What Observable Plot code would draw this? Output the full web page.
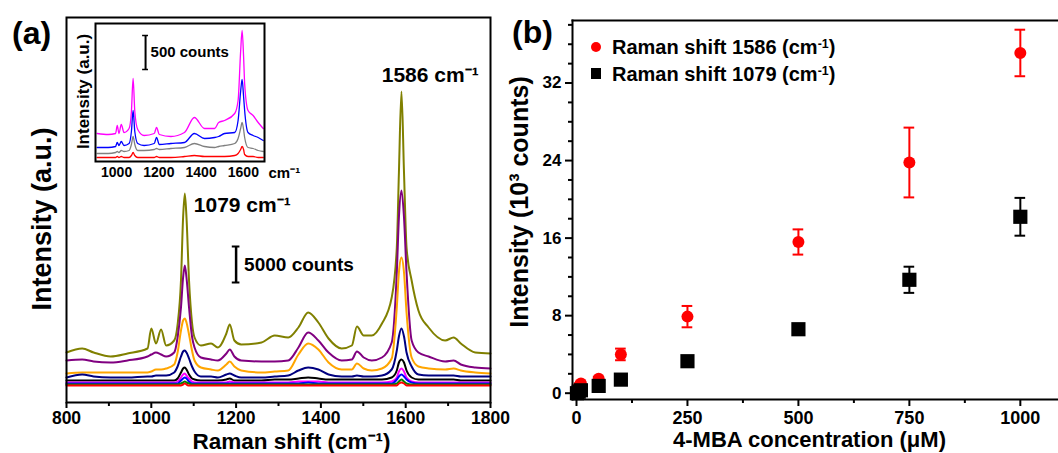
<!DOCTYPE html>
<html><head><meta charset="utf-8">
<script src="https://cdn.jsdelivr.net/npm/d3@7"></script>
<script src="https://cdn.jsdelivr.net/npm/@observablehq/plot@0.6"></script>
<style>
body{margin:0;background:#fff;}
#wrap{position:relative;width:1058px;height:453px;overflow:hidden;background:#fff;font-family:"Liberation Sans",Arial,sans-serif;font-weight:bold;color:#000;}
.abs{position:absolute;}
.lbl{position:absolute;white-space:nowrap;line-height:1;}
.sup{position:relative;top:-0.5em;font-size:0.62em;}
</style></head><body><div id="wrap"></div>
<script>
// ---------- Panel (a): main spectra ----------
const shiftA = [800, 837, 864, 904, 944, 991, 1000, 1011, 1023, 1035, 1054, 1062, 1070, 1075, 1079, 1083, 1089, 1096, 1102, 1117, 1141, 1157, 1177, 1185, 1196, 1212, 1260, 1291, 1323, 1347, 1370, 1394, 1418, 1449, 1473, 1485, 1501, 1520, 1544, 1567, 1579, 1584, 1590, 1596, 1602, 1614, 1630, 1654, 1693, 1713, 1730, 1764, 1800];
const specOlive = [50,54,50,46,49,54,74,59,73,57, 62,78,122,185,209,185,122,80,65,57, 59,55,69,78,62,58,60,67,65,75, 90,80,64,54,57,76,67,67,79,105, 155,230,311,230,155,122,92,75,62,65, 59,50,49];
const specPurple = [42,43,41,40,42,46,48,50,48,46, 50,65,95,125,137,125,95,66,55,45, 43,42,49,53,46,42,41,41,42,55, 70,62,50,42,43,51,45,42,45,60, 130,185,212,185,130,62,50,46,41,42, 38,35,34];
const specOrange = [29,30,30,30,30,30,31,33,33,34, 38,50,72,82,84,80,68,52,42,35, 33,32,38,41,36,32,30,31,32,48, 59,53,40,33,33,39,34,32,34,44, 95,130,145,130,90,45,36,34,33,34, 32,30,29];
const specNavy = [25,28,26,25,25,26,26,27,27,27, 30,36,46,51,52,50,44,36,31,26, 26,25,28,29,27,25,25,26,27,32, 35,33,28,26,26,27,26,26,27,33, 52,66,74,66,50,36,28,27,27,27, 26,26,26];
const specBlack = [22,22,22,22,22,22,22,22,22,22, 22,24,30,34,35,33,28,24,23,22, 22,22,23,24,22,22,22,23,23,24, 25,24,23,23,23,23,23,23,23,25, 32,40,43,40,32,25,23,23,23,23, 22,22,22];
const specMagenta = [20,20,20,20,20,20,20,20,20,20, 20,21,25,28,29,27,24,21,20,20, 20,20,20,21,20,20,20,20,20,21, 21,21,20,20,20,20,20,20,20,21, 25,31,34,31,25,21,20,20,20,20, 20,20,20];
const specBlue = [19,19,19,19,19,19,19,19,19,19, 19,19,22,24,25,24,21,19,19,19, 19,19,19,19,19,19,19,19,19,19, 20,19,19,19,19,19,19,19,19,19, 23,26,28,26,23,20,19,19,19,19, 19,19,19];
const specGreen = [18,18,18,18,18,18,18,18,18,18, 18,18,19,20,21,20,19,18,18,18, 18,18,18,18,18,18,18,18,18,18, 18,18,18,18,18,18,18,18,18,18, 19,21,23,21,19,18,18,18,18,18, 18,18,18];
const specRed = [17,17,17,17,17,17,17,17,17,17, 17,17,17,18,19,18,17,17,17,17, 17,17,17,17,17,17,17,17,17,17, 17,17,17,17,17,17,17,17,17,17, 17,19,20,19,17,17,17,17,17,17, 17,17,17];
const mainNames = ["olive","purple","orange","navy","black","magenta","blue","green","red"];
const mainColors = ["#808000","#800080","#ff7f0e","#000080","#000000","#ff00ff","#0000ff","#008000","#ff0000"];
const mainSeries = [specOlive,specPurple,specOrange,specNavy,specBlack,specMagenta,specBlue,specGreen,specRed];
const ticksA = [800, 1000, 1200, 1400, 1600, 1800];
const minorA = [900, 1100, 1300, 1500, 1700];
const scaleBarA = [{shift: 1200, from: 120, to: 156, label: "5000 counts"}];
const peakLabelsA = [{shift: 1079, value: 209, text: "1079 cm⁻¹"}, {shift: 1586, value: 311, text: "1586 cm⁻¹"}];

// ---------- Inset ----------
const shiftB = [908, 960, 995, 1003, 1011, 1022, 1035, 1059, 1070, 1078, 1086, 1100, 1130, 1178, 1189, 1202, 1257, 1321, 1368, 1416, 1464, 1483, 1511, 1559, 1575, 1587, 1594, 1601, 1606, 1622, 1646, 1670, 1694];
const insMagenta = [28,27,28,36,28,37,29,33,50,83, 50,32,26,28,34,27,25,29,44,33, 33,39,41,48,61,110,131,105,78,51, 46,39,33];
const insBlue = [14,14,15,19,16,20,16,18,30,51, 30,18,16,18,24,17,18,19,28,23, 24,25,28,29,41,70,82,65,51,29, 26,24,21];
const insGray = [8,8,9,10,9,11,10,11,17,25, 17,11,11,12,13,12,13,14,18,15, 14,15,16,18,23,33,39,32,24,14, 13,11,10];
const insRed = [4,4,4,5,4,5,4,4,6,9, 6,4,4,4,5,4,4,5,6,5, 5,5,5,6,8,12,15,12,7,5, 5,4,4];
const insNames = ["magenta","blue","gray","red"];
const insColors = ["#e533e5","#3333ff","#808080","#ff2020"];
const insSeries = [insMagenta, insBlue, insGray, insRed];
const ticksB = [1000, 1200, 1400, 1600];
const scaleBarB = [{shift: 1137, from: 92, to: 126, label: "500 counts"}];

// ---------- Panel (b) ----------
const conc = [1, 5, 10, 50, 100, 250, 500, 750, 1000];
const int1586 = [0.2, 0.7, 1.0, 1.5, 4.0, 7.9, 15.6, 23.8, 35.1];
const err1586 = [0.1, 0.1, 0.2, 0.2, 0.6, 1.1, 1.3, 3.6, 2.4];
const int1079 = [0.0, 0.15, 0.3, 0.75, 1.4, 3.3, 6.6, 11.7, 18.2];
const err1079 = [0.05, 0.05, 0.1, 0.1, 0.15, 0.2, 0.3, 1.35, 1.95];
const ticksCx = [0, 250, 500, 750, 1000];
const minorCx = [125, 375, 625, 875];
const ticksCy = [0, 8, 16, 24, 32];
const minorCy = [2, 4, 6, 10, 12, 14, 18, 20, 22, 26, 28, 30, 34, 36, 38];
const legendNames = ["Raman shift 1586 (cm<span class='sup'>-1</span>)", "Raman shift 1079 (cm<span class='sup'>-1</span>)"];

// ---------- build ----------
const FONT = '"Liberation Sans", Arial, sans-serif';
const wrap = document.getElementById("wrap");
const fmt = d => String(d);
function place(node, left, top) {
  const d = document.createElement("div");
  d.className = "abs"; d.style.left = left + "px"; d.style.top = top + "px";
  d.appendChild(node); wrap.appendChild(d);
}
function label(html, left, baseline, size) {
  const d = document.createElement("div");
  d.className = "lbl"; d.style.left = left + "px"; d.style.fontSize = size + "px";
  d.style.top = (baseline - 0.8465 * size) + "px";
  d.innerHTML = html; wrap.appendChild(d); return d;
}
const baseStyle = {fontFamily: FONT, fontWeight: "bold", color: "#000", background: "transparent", overflow: "visible"};

const spectraA = [];
mainSeries.forEach((arr, i) => arr.forEach((v, j) => spectraA.push({series: mainNames[i], shift: shiftA[j], value: v})));
const capA = 9;
const plotA = Plot.plot({
  width: 500, height: 453,
  marginLeft: 66, marginRight: 10, marginTop: 17, marginBottom: 51,
  style: {...baseStyle, fontSize: "18px"},
  x: {domain: [800, 1800]},
  y: {domain: [0, 385], axis: null},
  color: {domain: mainNames, range: mainColors},
  marks: [
    Plot.line(spectraA, {x: "shift", y: "value", z: "series", stroke: "series", strokeWidth: 2, curve: "monotone-x"}),
    Plot.ruleX(scaleBarA, {x: "shift", y1: "from", y2: "to", strokeWidth: 2.5}),
    Plot.ruleY(scaleBarA, {y: "from", x1: d => d.shift - capA, x2: d => d.shift + capA, strokeWidth: 2}),
    Plot.ruleY(scaleBarA, {y: "to", x1: d => d.shift - capA, x2: d => d.shift + capA, strokeWidth: 2}),
    Plot.text(scaleBarA, {x: "shift", y: d => (d.from + d.to) / 2, text: "label", textAnchor: "start", dx: 8, fontSize: 19}),
    Plot.text(peakLabelsA.slice(0, 1), {x: "shift", y: "value", text: "text", textAnchor: "start", dx: 9, dy: 12, fontSize: 21}),
    Plot.text(peakLabelsA.slice(1), {x: "shift", y: "value", text: "text", textAnchor: "start", dx: -18, dy: -16, fontSize: 21}),
    Plot.frame({stroke: "#000", strokeWidth: 2}),
    Plot.axisX({ticks: ticksA, tickFormat: fmt, tickSize: 6, tickPadding: 3, fontSize: 17.5, strokeWidth: 2, label: null}),
    Plot.axisX({ticks: minorA, tickSize: 4, tickFormat: () => "", strokeWidth: 2, label: null}),
    Plot.text(["Raman shift (cm⁻¹)"], {frameAnchor: "bottom", text: d => d, textAnchor: "middle", dx: 13, dy: 39, fontSize: 22.5, lineAnchor: "middle"}),
    Plot.text(["Intensity (a.u.)"], {frameAnchor: "left", text: d => d, textAnchor: "middle", rotate: -90, dx: -24, dy: 9, fontSize: 27, lineAnchor: "middle"})
  ]
});
place(plotA, 0, 0);

const spectraB = [];
insSeries.forEach((arr, i) => arr.forEach((v, j) => spectraB.push({series: insNames[i], shift: shiftB[j], value: v})));
const capB = 14;
const plotB = Plot.plot({
  width: 250, height: 185,
  marginLeft: 35, marginRight: 46, marginTop: 23, marginBottom: 24,
  style: {...baseStyle, fontSize: "14px"},
  x: {domain: [900, 1700]},
  y: {domain: [0, 138], axis: null},
  color: {domain: insNames, range: insColors},
  marks: [
    Plot.line(spectraB, {x: "shift", y: "value", z: "series", stroke: "series", strokeWidth: 1.3, curve: "monotone-x"}),
    Plot.ruleX(scaleBarB, {x: "shift", y1: "from", y2: "to", strokeWidth: 2}),
    Plot.ruleY(scaleBarB, {y: "from", x1: d => d.shift - capB, x2: d => d.shift + capB, strokeWidth: 1.5}),
    Plot.ruleY(scaleBarB, {y: "to", x1: d => d.shift - capB, x2: d => d.shift + capB, strokeWidth: 1.5}),
    Plot.text(scaleBarB, {x: "shift", y: d => (d.from + d.to) / 2, text: "label", textAnchor: "start", dx: 5, fontSize: 15}),
    Plot.frame({stroke: "#000", strokeWidth: 2}),
    Plot.axisX({ticks: ticksB, tickFormat: fmt, tickSize: 0, tickPadding: 6, fontSize: 14, label: null}),
    Plot.text(["cm⁻¹"], {frameAnchor: "bottom-right", text: d => d, textAnchor: "start", dx: 4, dy: 12, fontSize: 15, lineAnchor: "middle"}),
    Plot.text(["Intensity (a.u.)"], {frameAnchor: "left", text: d => d, textAnchor: "middle", rotate: -90, dx: -12, dy: -1, fontSize: 17, lineAnchor: "middle"})
  ]
});
place(plotB, 60, 0);

const red = conc.map((c, i) => ({conc: c, v: int1586[i], e: err1586[i]}));
const blk = conc.map((c, i) => ({conc: c, v: int1079[i], e: err1079[i]}));
const capC = 12;
function errMarks(data, color) {
  return [
    Plot.ruleX(data, {x: "conc", y1: d => d.v - d.e, y2: d => d.v + d.e, stroke: color, strokeWidth: 2}),
    Plot.ruleY(data, {y: d => d.v + d.e, x1: d => d.conc - capC, x2: d => d.conc + capC, stroke: color, strokeWidth: 2}),
    Plot.ruleY(data, {y: d => d.v - d.e, x1: d => d.conc - capC, x2: d => d.conc + capC, stroke: color, strokeWidth: 2})
  ];
}
const plotC = Plot.plot({
  width: 558, height: 453,
  marginLeft: 72, marginRight: 0, marginTop: 20, marginBottom: 54,
  style: {...baseStyle, fontSize: "18px"},
  x: {domain: [-9, 1086]},
  y: {domain: [-0.65, 38.45]},
  marks: [
    ...errMarks(red, "#ff0000"),
    Plot.dot(red, {x: "conc", y: "v", r: 6, fill: "#ff0000", symbol: "circle"}),
    ...errMarks(blk, "#000000"),
    Plot.dot(blk, {x: "conc", y: "v", r: 8, fill: "#000000", symbol: "square"}),
    Plot.frame({anchor: "top", strokeWidth: 2}),
    Plot.frame({anchor: "left", strokeWidth: 2}),
    Plot.frame({anchor: "bottom", strokeWidth: 2}),
    Plot.axisX({ticks: ticksCx, tickFormat: fmt, tickSize: 7, tickPadding: 5, fontSize: 18, strokeWidth: 2, label: null}),
    Plot.axisX({ticks: minorCx, tickSize: 4, tickFormat: () => "", strokeWidth: 2, label: null}),
    Plot.axisY({ticks: ticksCy, tickFormat: fmt, tickSize: 7, tickPadding: 4, fontSize: 17, strokeWidth: 2, label: null}),
    Plot.axisY({ticks: minorCy, tickSize: 4, tickFormat: () => "", strokeWidth: 2, label: null}),
    Plot.text(["4-MBA concentration (μM)"], {frameAnchor: "bottom", text: d => d, textAnchor: "middle", dx: -6, dy: 40, fontSize: 22, lineAnchor: "middle"}),
    Plot.text(["Intensity (10³ counts)"], {frameAnchor: "left", text: d => d, textAnchor: "middle", rotate: -90, dx: -53, dy: -8, fontSize: 25, lineAnchor: "middle"})
  ]
});
place(plotC, 500, 0);

// panel letters
label("(a)", 12, 44, 32);
label("(b)", 512, 43, 32);

// legend (panel b)
const legendColors = ["#ff0000", "#000000"];
const legendBaselines = [54, 80.7];
legendNames.forEach((n, i) => {
  const m = document.createElement("div");
  m.className = "abs";
  const w = 10, h = i === 0 ? 10 : 11;
  m.style.width = w + "px"; m.style.height = h + "px";
  m.style.background = legendColors[i];
  m.style.borderRadius = i === 0 ? "50%" : "0";
  m.style.left = (596 - w / 2) + "px";
  m.style.top = (legendBaselines[i] - 7.5 - h / 2) + "px";
  wrap.appendChild(m);
  label(n, 612, legendBaselines[i], 20);
});
</script></body></html>
